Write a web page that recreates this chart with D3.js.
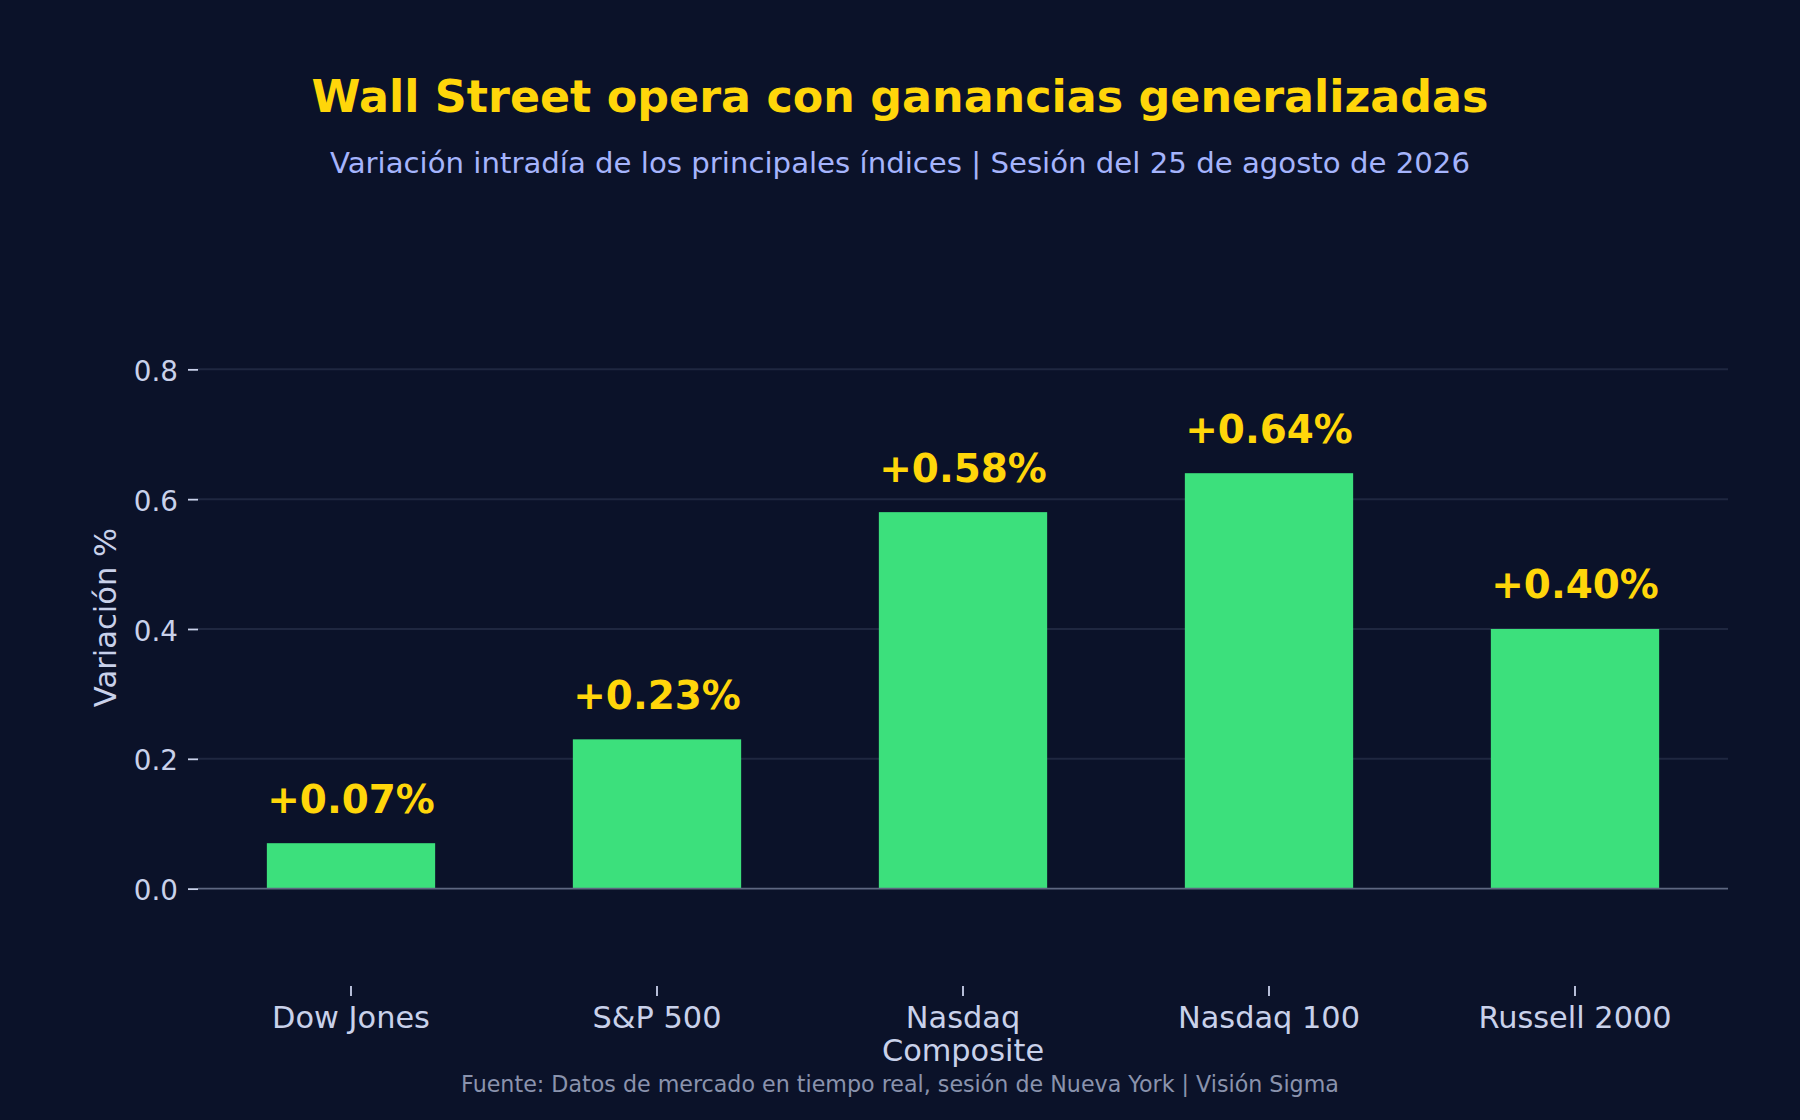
<!DOCTYPE html>
<html>
<head>
<meta charset="utf-8">
<script src="https://cdn.jsdelivr.net/npm/d3@7"></script>
<style>
  html, body { margin: 0; padding: 0; background: #0b1229; }
  svg { display: block; font-family: "DejaVu Sans", sans-serif; }
</style>
</head>
<body>
<div id="vis"></div>
<script>
const categories = ["Dow Jones", "S&P 500", "Nasdaq\nComposite", "Nasdaq 100", "Russell 2000"];
const values = [0.07, 0.23, 0.58, 0.64, 0.40];
const yTicks = [0, 0.2, 0.4, 0.6, 0.8];

const FRAME_WIDTH = 1800;
const FRAME_HEIGHT = 1120;
const LEFT = 198;
const RIGHT = 1728;
const TOP = 246;
const BOTTOM = 986;

const BG = "#0b1229";
const YELLOW = "#ffd60a";
const GREEN = "#3ce07c";
const TEXT = "#c9d1ea";

const FRAME = d3.select("#vis")
                    .append("svg")
                        .attr("width", FRAME_WIDTH)
                        .attr("height", FRAME_HEIGHT);

FRAME.append("rect")
        .attr("width", FRAME_WIDTH)
        .attr("height", FRAME_HEIGHT)
        .attr("fill", BG);

const X_SCALE = d3.scaleBand()
                    .domain(categories)
                    .range([LEFT, RIGHT])
                    .paddingInner(0.45)
                    .paddingOuter(0.225);

const Y_SCALE = d3.scaleLinear()
                    .domain([-0.15, 0.99])
                    .range([BOTTOM, TOP]);

// grid
FRAME.append("g")
        .selectAll("line")
        .data(yTicks.filter(d => d > 0))
        .enter()
        .append("line")
            .attr("x1", LEFT)
            .attr("x2", RIGHT)
            .attr("y1", d => Y_SCALE(d))
            .attr("y2", d => Y_SCALE(d))
            .attr("stroke", "#1f2740")
            .attr("stroke-width", 2);

// bars
FRAME.append("g")
        .selectAll("rect")
        .data(values)
        .enter()
        .append("rect")
            .attr("x", (d, i) => X_SCALE(categories[i]))
            .attr("y", d => Y_SCALE(d))
            .attr("width", X_SCALE.bandwidth())
            .attr("height", d => Y_SCALE(0) - Y_SCALE(d))
            .attr("fill", GREEN);

// zero line
FRAME.append("line")
        .attr("x1", LEFT)
        .attr("x2", RIGHT)
        .attr("y1", Y_SCALE(0))
        .attr("y2", Y_SCALE(0))
        .attr("stroke", "#5e6781")
        .attr("stroke-width", 1.8);

// value labels
FRAME.append("g")
        .selectAll("text")
        .data(values)
        .enter()
        .append("text")
            .attr("x", (d, i) => X_SCALE(categories[i]) + X_SCALE.bandwidth() / 2)
            .attr("y", d => Y_SCALE(d) - 30.5)
            .attr("text-anchor", "middle")
            .attr("font-size", "38.9px")
            .attr("font-weight", "bold")
            .attr("fill", YELLOW)
            .text(d => "+" + d.toFixed(2) + "%");

// y axis
const Y_AXIS = FRAME.append("g")
        .attr("transform", "translate(" + LEFT + ",0)")
        .call(d3.axisLeft(Y_SCALE).tickValues(yTicks).tickFormat(d3.format(".1f")).tickSize(10).tickPadding(20));
Y_AXIS.select(".domain").remove();
Y_AXIS.selectAll(".tick line").attr("stroke", TEXT).attr("stroke-width", 1.8);
Y_AXIS.selectAll(".tick text")
        .attr("fill", TEXT)
        .attr("font-size", "27.8px")
        .attr("font-family", "DejaVu Sans")
        .attr("x", -20)
        .attr("dy", "0.4em");

// x axis
const X_AXIS = FRAME.append("g")
        .attr("transform", "translate(0," + BOTTOM + ")")
        .call(d3.axisBottom(X_SCALE).tickSize(10).tickFormat(""));
X_AXIS.select(".domain").remove();
X_AXIS.selectAll(".tick line").attr("stroke", TEXT).attr("stroke-width", 1.8);
X_AXIS.selectAll(".tick")
        .append("text")
            .attr("fill", TEXT)
            .attr("font-size", "30.4px")
            .attr("font-family", "DejaVu Sans")
            .attr("text-anchor", "middle")
            .attr("y", 41.5)
            .selectAll("tspan")
            .data(d => d.split("\n"))
            .enter()
            .append("tspan")
                .attr("x", 0)
                .attr("dy", (d, i) => i === 0 ? 0 : 33.4)
                .text(d => d);

// y label
FRAME.append("text")
        .attr("transform", "translate(116,617.5) rotate(-90)")
        .attr("text-anchor", "middle")
        .attr("font-size", "30.6px")
        .attr("fill", TEXT)
        .text("Variación %");

// titles
FRAME.append("text")
        .attr("x", 900)
        .attr("y", 111.7)
        .attr("text-anchor", "middle")
        .attr("font-size", "44.4px")
        .attr("font-weight", "bold")
        .attr("fill", YELLOW)
        .text("Wall Street opera con ganancias generalizadas");

FRAME.append("text")
        .attr("x", 900)
        .attr("y", 172.7)
        .attr("text-anchor", "middle")
        .attr("font-size", "29.2px")
        .attr("fill", "#a5b4fc")
        .text("Variación intradía de los principales índices | Sesión del 25 de agosto de 2026");

FRAME.append("text")
        .attr("x", 900)
        .attr("y", 1091.7)
        .attr("text-anchor", "middle")
        .attr("font-size", "22.2px")
        .attr("fill", "#8a93ad")
        .text("Fuente: Datos de mercado en tiempo real, sesión de Nueva York | Visión Sigma");
</script>
</body>
</html>
